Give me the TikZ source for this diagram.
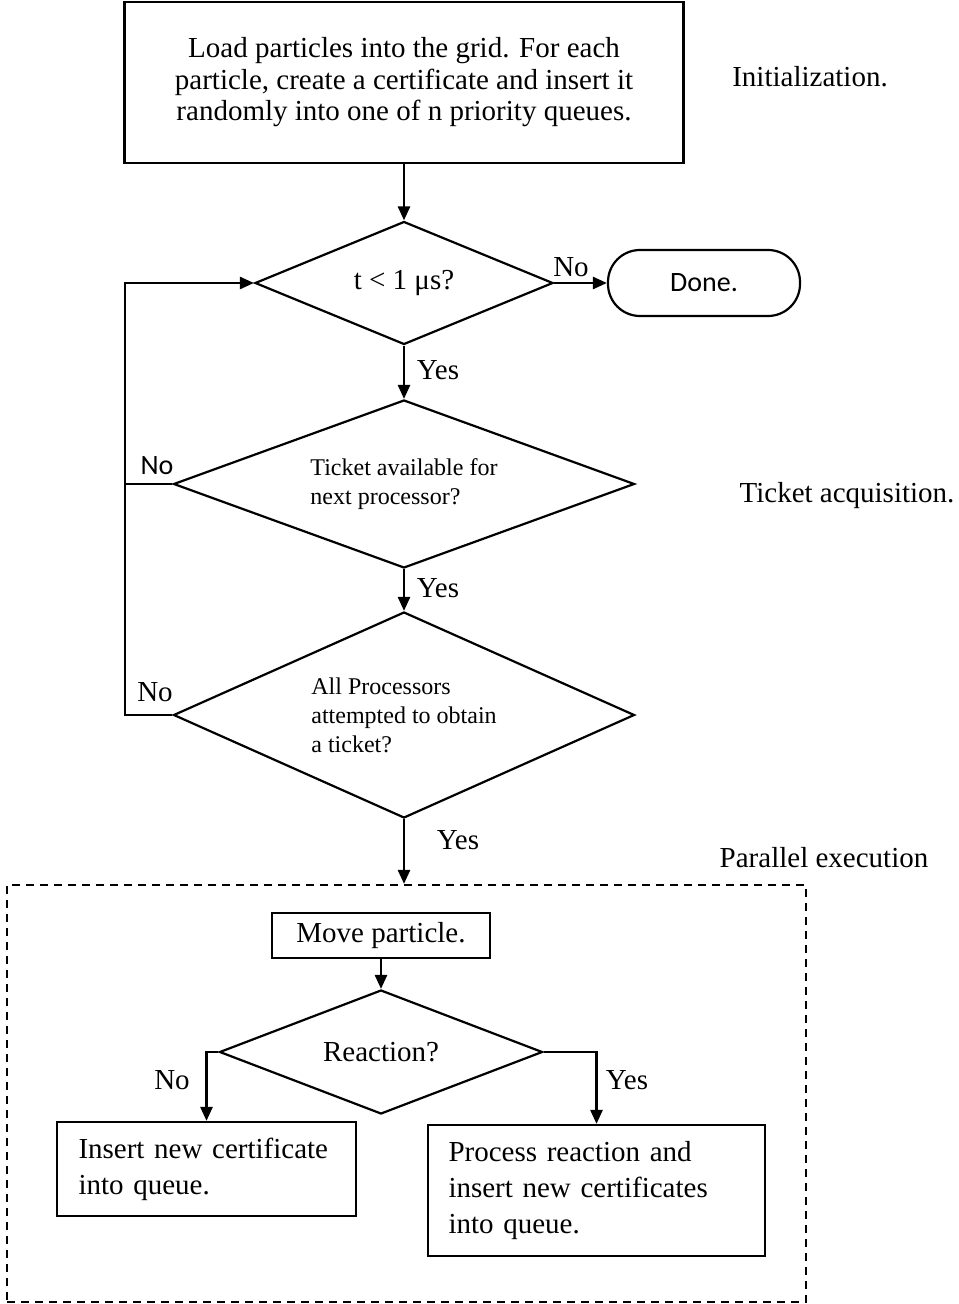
\documentclass[tikz,border=0pt]{standalone}
\usepackage{fontspec}
\setmainfont{Liberation Serif}
\newfontfamily\calfont{Carlito}
\usetikzlibrary{shapes.geometric,arrows.meta}
\newcommand{\boxsize}{\fontsize{14.5}{15.75}\selectfont}
\newcommand{\widesize}{\fontsize{14.5}{18}\selectfont}
\newcommand{\asksize}{\fontsize{12}{14.5}\selectfont}
\tikzset{
    flow/.style={line width=1.3pt, -{Triangle[length=7pt,width=6pt]}},
    wire/.style={line width=1.3pt},
    stepbox/.style={draw, line width=1.1pt, rectangle, inner sep=0pt, font=\boxsize},
    ask/.style={draw, line width=1.1pt, diamond, inner sep=0pt, align=left},
    lbl/.style={font=\boxsize, inner sep=0pt}
}

\begin{document}
\begin{tikzpicture}[x=0.5pt, y=-0.5pt]
		\useasboundingbox (0,0) rectangle (958,1304);

		% Initialization
		\node[stepbox, minimum width=279.5pt, minimum height=80.5pt, align=center] (load) at (404,82.5)
			{Load particles into the grid. For each\\particle, create a certificate and insert it\\randomly into one of n priority queues.};
		\node[lbl] (initlbl) at (810,77) {Initialization.};

		\node[ask, font=\boxsize, aspect=2.42, minimum width=149pt, minimum height=61.5pt] (tcheck) at (404,283) {t < 1 μs?};
		\node[stepbox, rounded corners=16pt, minimum width=96pt, minimum height=33pt, font=\calfont\fontsize{14}{16}\selectfont] (done) at (704,283) {Done.};
		\node[lbl] (nodone) at (571,267) {No};

		% Ticket acquisition
		\node[ask, font=\asksize, aspect=2.74, minimum width=230.5pt, minimum height=84pt] (ticket) at (404,484)
			{Ticket available for\\next processor?};
		\node[ask, font=\asksize, aspect=2.24, minimum width=230.5pt, minimum height=103pt] (allproc) at (404,715)
			{All Processors\\attempted to obtain\\a ticket?};
		\node[lbl] (ticketlbl) at (847,496) {Ticket acquisition.};
		\node[lbl] (yesa) at (438,370) {Yes};
		\node[lbl, font=\calfont\fontsize{14}{16}\selectfont] (noticket) at (157,466) {No};
		\node[lbl] (yesb) at (438,588) {Yes};
		\node[lbl] (noall) at (155,692) {No};
		\node[lbl] (yesc) at (458,840) {Yes};
		\coordinate (loopc) at (125,715);

		% Parallel execution
		\node[draw, line width=1.1pt, dash pattern=on 4pt off 3pt, minimum width=399.5pt, minimum height=208.5pt] (par) at (406.5,1093.5) {};
		\node[lbl] (parlbl) at (824,858) {Parallel execution};
		\node[stepbox, minimum width=109pt, minimum height=22.5pt] (move) at (381,935.5) {Move particle.};
		\node[ask, font=\boxsize, aspect=2.6, minimum width=161.5pt, minimum height=62pt] (react) at (381,1052) {Reaction?};
		\node[stepbox, font=\widesize, minimum width=149.5pt, minimum height=47pt, text width=128pt, inner xsep=10.5pt, align=left] (ins) at (206.5,1169)
			{Insert new certificate\\into queue.};
		\node[stepbox, font=\widesize, minimum width=168.5pt, minimum height=65.5pt, text width=148pt, inner xsep=10pt, align=left] (proc) at (596.5,1190.5)
			{Process reaction and\\insert new certificates\\into queue.};
		\node[lbl] (noreact) at (172,1080) {No};
		\node[lbl] (yesreact) at (627,1080) {Yes};

		% Connectors
		\draw[flow] (load.south) -- (tcheck.north);
		\draw[flow] (tcheck.east) -- (done.west);
		\draw[flow] (tcheck.south) -- (ticket.north);
		\draw[flow] (ticket.south) -- (allproc.north);
		\draw[flow] (allproc.west) -- (loopc) |- (tcheck.west);
		\draw[wire] (ticket.west) -- (ticket.west -| loopc);
		\draw[flow] (allproc.south) -- (allproc.south |- par.north);
		\draw[flow] (move.south) -- (react.north);
		\draw[flow] (react.west) -| (ins.north);
		\draw[flow] (react.east) -| (proc.north);
	\end{tikzpicture}
\end{document}
